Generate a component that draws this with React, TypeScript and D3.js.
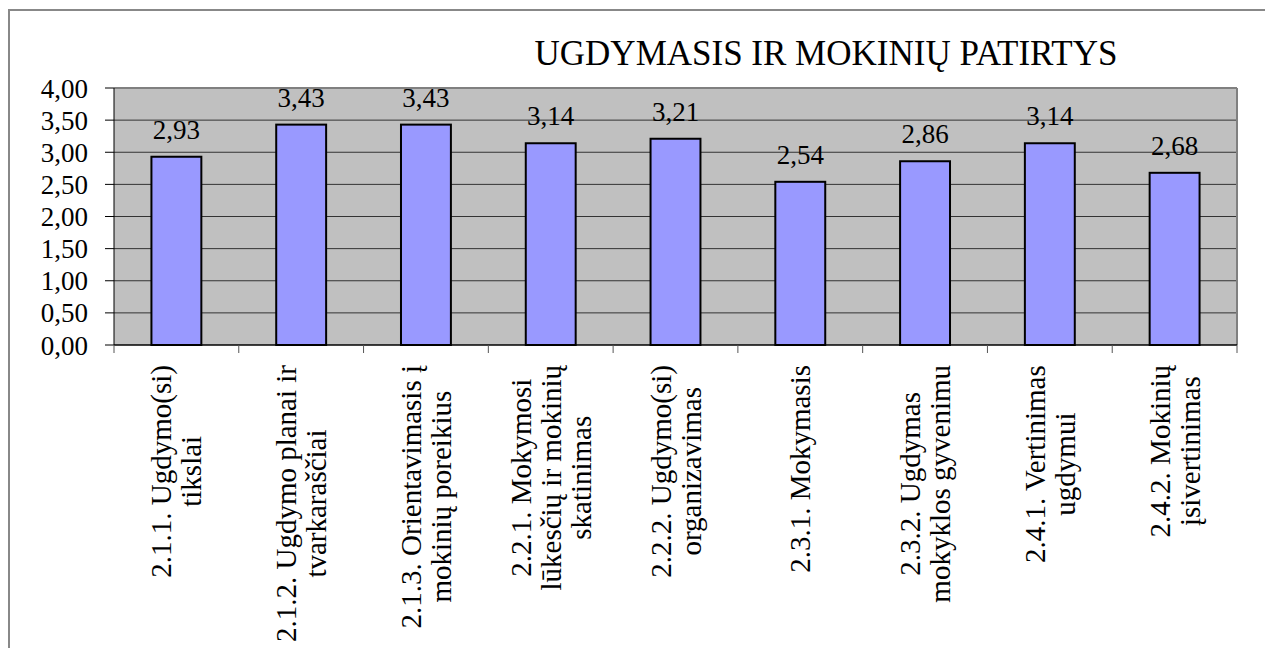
import { useMemo } from "react";
import * as d3 from "d3";

const WIDTH = 1265;
const HEIGHT = 648;
const PLOT = { left: 114, top: 88, right: 1237, bottom: 345 };
const FONT = "Liberation Serif, Times New Roman, DejaVu Serif, serif";
const CAT_FONT_SIZE = 29;

const TITLE = "UGDYMASIS IR MOKINIŲ PATIRTYS";

// category labels, already split into lines as in the picture
const categories = [
  ["2.1.1. Ugdymo(si)", "tikslai"],
  ["2.1.2. Ugdymo planai ir", "tvarkaraščiai"],
  ["2.1.3. Orientavimasis į", "mokinių poreikius"],
  ["2.2.1. Mokymosi", "lūkesčių ir mokinių", "skatinimas"],
  ["2.2.2. Ugdymo(si)", "organizavimas"],
  ["2.3.1. Mokymasis"],
  ["2.3.2. Ugdymas", "mokyklos gyvenimu"],
  ["2.4.1. Vertinimas", "ugdymui"],
  ["2.4.2. Mokinių", "įsivertinimas"],
];

const values = [2.93, 3.43, 3.43, 3.14, 3.21, 2.54, 2.86, 3.14, 2.68];

const yTicks = [0, 0.5, 1, 1.5, 2, 2.5, 3, 3.5, 4];

const fmt = (v: number) => v.toFixed(2).replace(".", ",");

export default function App() {
  const xScale = useMemo(
    () =>
      d3
        .scaleBand<number>()
        .domain(d3.range(categories.length))
        .range([PLOT.left, PLOT.right])
        .paddingInner(0.6)
        .paddingOuter(0.3),
    []
  );
  // boundaries for the tick marks under the axis
  const step = (PLOT.right - PLOT.left) / categories.length;

  const yScale = useMemo(
    () => d3.scaleLinear().domain([0, 4]).range([PLOT.bottom, PLOT.top]),
    []
  );

  // measure the longest line of every label so the block starts under the axis
  const maxLens = useMemo(() => {
    const ctx = document.createElement("canvas").getContext("2d");
    if (!ctx) return categories.map(() => 200);
    ctx.font = `${CAT_FONT_SIZE}px ${FONT}`;
    return categories.map((lines) => d3.max(lines, (l) => ctx.measureText(l).width) || 0);
  }, []);

  const lineGap = 30;

  return (
    <svg
      width={WIDTH}
      height={HEIGHT}
      style={{ position: "absolute", left: 0, top: 0, background: "white", fontFamily: FONT }}
    >
      {/* outer chart frame */}
      <rect x={9} y={10} width={WIDTH + 20} height={HEIGHT + 20} fill="white" stroke="#888" strokeWidth={2} />

      <text x={826} y={65} textAnchor="middle" fontSize={35}>
        {TITLE}
      </text>

      {/* plot area */}
      <rect
        x={PLOT.left}
        y={PLOT.top}
        width={PLOT.right - PLOT.left}
        height={PLOT.bottom - PLOT.top}
        fill="#c0c0c0"
      />
      {yTicks.slice(1).map((t) => (
        <line key={t} x1={PLOT.left} x2={PLOT.right} y1={yScale(t)} y2={yScale(t)} stroke="#333" strokeWidth={1} />
      ))}
      <line x1={PLOT.left} x2={PLOT.right} y1={PLOT.top} y2={PLOT.top} stroke="#808080" strokeWidth={2} />
      <line x1={PLOT.right} x2={PLOT.right} y1={PLOT.top} y2={PLOT.bottom} stroke="#808080" strokeWidth={2} />

      {/* bars */}
      {values.map((v, i) => (
        <rect
          key={i}
          x={xScale(i)}
          y={yScale(v)}
          width={xScale.bandwidth()}
          height={PLOT.bottom - yScale(v)}
          fill="#9999ff"
          stroke="black"
          strokeWidth={2}
        />
      ))}

      {/* value labels */}
      {values.map((v, i) => (
        <text key={i} x={(xScale(i) || 0) + xScale.bandwidth() / 2} y={yScale(v) - 18} textAnchor="middle" fontSize={27}>
          {fmt(v)}
        </text>
      ))}

      {/* y axis */}
      <line x1={PLOT.left} x2={PLOT.left} y1={PLOT.top} y2={PLOT.bottom} stroke="black" strokeWidth={1} />
      {yTicks.map((t) => (
        <g key={t}>
          <line x1={PLOT.left - 9} x2={PLOT.left} y1={yScale(t)} y2={yScale(t)} stroke="black" strokeWidth={1} />
          <text x={88} y={yScale(t) + 9.5} textAnchor="end" fontSize={27}>
            {fmt(t)}
          </text>
        </g>
      ))}

      {/* x axis */}
      <line x1={PLOT.left} x2={PLOT.right} y1={PLOT.bottom} y2={PLOT.bottom} stroke="black" strokeWidth={1.5} />
      {d3.range(categories.length + 1).map((i) => (
        <line
          key={i}
          x1={PLOT.left + i * step}
          x2={PLOT.left + i * step}
          y1={PLOT.bottom}
          y2={PLOT.bottom + 8}
          stroke="#555"
          strokeWidth={1}
        />
      ))}
      {categories.map((lines, i) => {
        const cx = (xScale(i) || 0) + xScale.bandwidth() / 2;
        const cy = 365 + maxLens[i] / 2;
        return (
          <text
            key={i}
            transform={`translate(${cx},${cy}) rotate(-90)`}
            textAnchor="middle"
            dominantBaseline="central"
            fontSize={CAT_FONT_SIZE}
          >
            {lines.map((l, j) => (
              <tspan key={j} x={0} y={(j - (lines.length - 1) / 2) * lineGap}>
                {l}
              </tspan>
            ))}
          </text>
        );
      })}
    </svg>
  );
}
